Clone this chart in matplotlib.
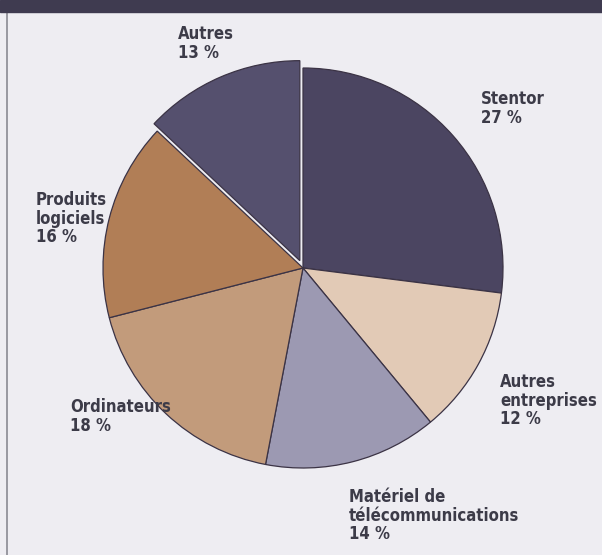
import matplotlib.pyplot as plt
from matplotlib.patches import Rectangle

labels = ['Stentor\n27 %', 'Autres\nentreprises\n12 %', 'Matériel de\ntélécommunications\n14 %',
          'Ordinateurs\n18 %', 'Produits\nlogiciels\n16 %', 'Autres\n13 %']
values = [27, 12, 14, 18, 16, 13]
colors = ['#4b4561', '#e2cab6', '#9c99b2', '#c29b7b', '#b17e56', '#55506e']
explode = [0, 0, 0, 0, 0, 8]

# label anchor points (pixels from top-left of image)
label_pos = [(481, 90), (500, 373), (349, 488), (70, 398), (36, 191), (178, 25)]

W, H = 602, 555
fig = plt.figure(figsize=(W / 100, H / 100), dpi=100)
fig.patch.set_facecolor('#eeedf2')
ax = fig.add_axes([0, 0, 1, 1])
ax.set_facecolor('#eeedf2')

ax.pie(values, colors=colors, explode=explode, startangle=90, counterclock=False,
       center=(303, H - 268), radius=200, frame=True,
       wedgeprops=dict(edgecolor='#3b3345', linewidth=0.9))

for lab, (px, py) in zip(labels, label_pos):
    ax.text(px, H - py, lab, ha='left', va='top', fontsize=12, color='#3c3b48',
            family='DejaVu Sans', fontstretch='condensed', fontweight='bold',
            linespacing=1.05)

# dark band at top and thin frame line on the left
ax.add_patch(Rectangle((0, H - 12), W, 12, color='#3f3b50', zorder=5))
ax.plot([7, 7], [0, H - 12], color='#8a8a92', lw=1.2)

ax.set_xlim(0, W)
ax.set_ylim(0, H)
ax.set_aspect('auto')
ax.axis('off')

fig.savefig('out.png', dpi=100, facecolor=fig.get_facecolor())
